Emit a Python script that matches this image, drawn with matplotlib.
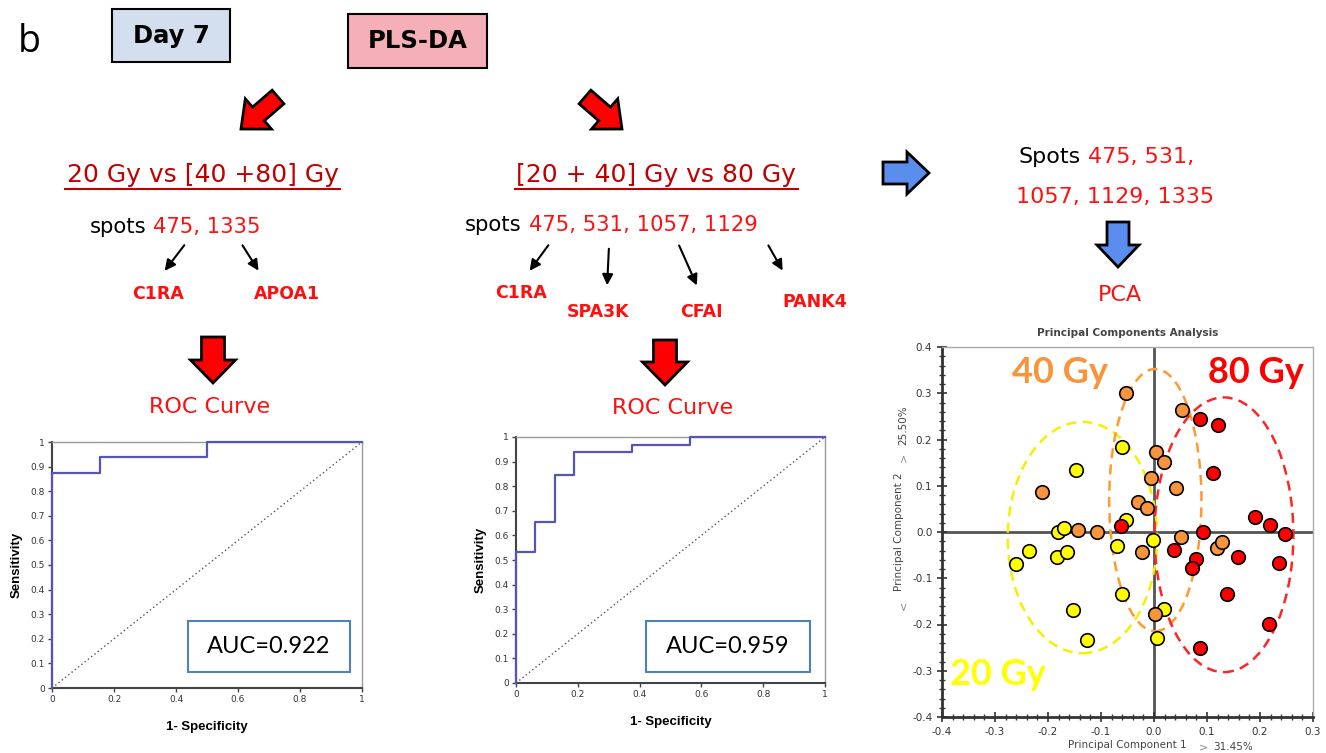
import matplotlib
matplotlib.use("Agg")
import matplotlib.pyplot as plt
from matplotlib.patches import FancyArrow, Rectangle, Ellipse
from matplotlib.ticker import MultipleLocator

# ROC curve 1: 20 Gy vs [40+80] Gy
fpr1 = [0, 0, 0.15625, 0.5, 1]
tpr1 = [0, 0.875, 0.9375, 1, 1]
auc1 = "AUC=0.922"

# ROC curve 2: [20+40] Gy vs 80 Gy
fpr2 = [0, 0, 0.0625, 0.125, 0.1875, 0.375, 0.5625, 1]
tpr2 = [0, 0.531, 0.656, 0.844, 0.9375, 0.969, 1, 1]
auc2 = "AUC=0.959"

roc_yticks = [0, 0.1, 0.2, 0.3, 0.4, 0.5, 0.6, 0.7, 0.8, 0.9, 1]
roc_ylabels = ["0", "0.1", "0.2", "0.3", "0.4", "0.5", "0.6", "0.7", "0.8", "0.9", "1"]
roc_xticks = [0, 0.2, 0.4, 0.6, 0.8, 1]
roc_xlabels = ["0", "0.2", "0.4", "0.6", "0.8", "1"]

# PCA scores (PC1, PC2)
pc1_20 = [-0.26, -0.235, -0.182, -0.169, -0.183, -0.164, -0.147, -0.152,
          -0.126, -0.060, -0.053, -0.069, -0.060, -0.001, 0.019, 0.006]
pc2_20 = [-0.069, -0.042, 0.001, 0.008, -0.055, -0.043, 0.133, -0.168,
          -0.234, 0.183, 0.027, -0.031, -0.134, -0.018, -0.167, -0.229]
pc1_40 = [-0.211, -0.143, -0.108, -0.053, -0.031, -0.014, -0.006, 0.004,
          0.018, 0.042, 0.052, -0.022, 0.050, 0.001, 0.119, 0.128]
pc2_40 = [0.087, 0.005, 0.001, 0.301, 0.065, 0.051, 0.117, 0.173,
          0.151, 0.095, 0.263, -0.043, -0.010, -0.178, -0.035, -0.022]
pc1_80 = [-0.062, 0.087, 0.121, 0.111, 0.092, 0.038, 0.080, 0.072,
          0.158, 0.138, 0.190, 0.219, 0.248, 0.235, 0.217, 0.087]
pc2_80 = [0.012, 0.245, 0.231, 0.128, 0.001, -0.039, -0.059, -0.078,
          -0.055, -0.135, 0.032, 0.016, -0.004, -0.068, -0.199, -0.251]

# group ellipses: centre x, centre y, width, height
ell_20 = [-0.135, -0.012, 0.282, 0.50]
ell_40 = [0.0025, 0.069, 0.174, 0.567]
ell_80 = [0.132, -0.006, 0.262, 0.594]

c_yellow = "#FFFF00"
c_orange = "#F7943C"
c_red = "#FF0000"
c_dred = "#C00000"
c_text_red = "#FF1010"
c_blue = "#5B8DEF"

W, H = 1326, 753
fig = plt.figure(figsize=(W / 100, H / 100), dpi=100)

# overlay in pixel coordinates for the diagram parts
ov = fig.add_axes([0, 0, 1, 1])
ov.set_xlim(0, W)
ov.set_ylim(H, 0)
ov.axis("off")

font = "DejaVu Sans"

ov.text(18, 42, "b", fontsize=27, family="Open Sans", va="center", ha="left")

ov.add_patch(Rectangle((112, 9), 118, 53, facecolor="#D3DFEE", edgecolor="black", lw=1.5))
ov.text(171, 36, "Day 7", fontsize=17.5, family=font, weight="bold", ha="center", va="center")
ov.add_patch(Rectangle((348, 14), 139, 54, facecolor="#F4AFB7", edgecolor="black", lw=1.5))
ov.text(417.5, 41, "PLS-DA", fontsize=17.5, family=font, weight="bold", ha="center", va="center")


def big_arrow(x, y, dx, dy, color, shaft, head_w, head_l):
    ov.add_patch(FancyArrow(x, y, dx, dy, width=shaft, head_width=head_w,
                            head_length=head_l, length_includes_head=True,
                            facecolor=color, edgecolor="black", lw=2))


# red diagonal arrows from the top
big_arrow(278, 97, -37, 32, c_red, 18, 40, 23)
big_arrow(585, 97, 37, 32, c_red, 18, 40, 23)

# titles
ov.text(203, 175, "20 Gy vs [40 +80] Gy", fontsize=18, family=font, color=c_dred,
        ha="center", va="center")
ov.plot([65, 340], [189, 189], color=c_dred, lw=1.5)
ov.text(656, 175, "[20 + 40] Gy vs 80 Gy", fontsize=18, family=font, color=c_dred,
        ha="center", va="center")
ov.plot([515, 798], [189, 189], color=c_dred, lw=1.5)

# spot lines
ov.text(146, 227, "spots", fontsize=15.2, family=font, ha="right", va="center")
ov.text(153, 227, "475, 1335", fontsize=15.2, family=font, color=c_text_red, ha="left", va="center")
ov.text(521, 225, "spots", fontsize=15.2, family=font, ha="right", va="center")
ov.text(529, 225, "475, 531, 1057, 1129", fontsize=15.2, family=font, color=c_text_red,
        ha="left", va="center")


def thin_arrow(x0, y0, x1, y1):
    ov.annotate("", xy=(x1, y1), xytext=(x0, y0),
                arrowprops=dict(arrowstyle="-|>", lw=1.5, color="black", mutation_scale=16))


thin_arrow(186, 243, 163, 273)
thin_arrow(241, 243, 260, 273)
thin_arrow(550, 243, 528, 273)
thin_arrow(609, 246, 607, 288)
thin_arrow(678, 243, 698, 288)
thin_arrow(767, 243, 784, 273)

prot_kw = dict(fontsize=12.5, family=font, weight="bold", color=c_text_red, ha="center", va="center")
ov.text(158, 294, "C1RA", **prot_kw)
ov.text(287, 294, "APOA1", **prot_kw)
ov.text(521, 293, "C1RA", **prot_kw)
ov.text(598, 312, "SPA3K", **prot_kw)
ov.text(701, 312, "CFAI", **prot_kw)
ov.text(815, 302, "PANK4", **prot_kw)

# red down arrows and ROC captions
big_arrow(213, 337, 0, 46, c_red, 23, 45, 23)
big_arrow(665, 340, 0, 45, c_red, 23, 45, 23)
ov.text(210, 407, "ROC Curve", fontsize=16, family=font, color=c_text_red, ha="center", va="center")
ov.text(673, 408, "ROC Curve", fontsize=16, family=font, color=c_text_red, ha="center", va="center")

# right column
big_arrow(883, 173, 46, 0, c_blue, 22, 42, 22)
ov.text(1081, 157, "Spots", fontsize=16, family=font, ha="right", va="center")
ov.text(1088, 157, "475, 531,", fontsize=16, family=font, color=c_text_red, ha="left", va="center")
ov.text(1115, 197, "1057, 1129, 1335", fontsize=16, family=font, color=c_text_red,
        ha="center", va="center")
big_arrow(1118, 222, 0, 45, c_blue, 22, 42, 22)
ov.text(1120, 295, "PCA", fontsize=16, family=font, color=c_text_red, ha="center", va="center")


# ROC panels
def roc_panel(rect, fpr, tpr, auc, box):
    ax = fig.add_axes(rect)
    ax.step(fpr, tpr, where="post", color="#5555B5", lw=1.6, zorder=3, clip_on=False)
    ax.plot([0, 1], [0, 1], color="#555555", lw=1, ls=(0, (1, 2)))
    ax.set_xlim(0, 1)
    ax.set_ylim(0, 1)
    ax.set_xticks(roc_xticks)
    ax.set_xticklabels(roc_xlabels)
    ax.set_yticks(roc_yticks)
    ax.set_yticklabels(roc_ylabels)
    ax.tick_params(labelsize=6.5, length=3, width=1, color="#444444", labelcolor="#333333", pad=2)
    for s in ["left", "bottom"]:
        ax.spines[s].set_color("#444444")
        ax.spines[s].set_linewidth(1.5)
    for s in ["top", "right"]:
        ax.spines[s].set_color("#999999")
        ax.spines[s].set_linewidth(1)
    ax.set_ylabel("Sensitivity", fontsize=9.5, weight="bold", family="Liberation Sans", labelpad=6)
    ax.set_xlabel("1- Specificity", fontsize=9.5, weight="bold", family="Liberation Sans", labelpad=12)
    bx0, by0, bx1, by1 = box
    ax.add_patch(Rectangle((bx0, by0), bx1 - bx0, by1 - by0, facecolor="white",
                           edgecolor="#4F81BD", lw=1.5, zorder=4))
    ax.text((bx0 + bx1) / 2, (by0 + by1) / 2, auc, fontsize=17, family="Lato",
            ha="center", va="center", zorder=5)
    return ax


roc_panel([52 / W, 1 - 688 / H, 310 / W, 246 / H], fpr1, tpr1, auc1, (0.44, 0.065, 0.96, 0.272))
roc_panel([516 / W, 1 - 683 / H, 309 / W, 246 / H], fpr2, tpr2, auc2, (0.42, 0.045, 0.95, 0.252))

# PCA panel
ax = fig.add_axes([942 / W, 1 - 717 / H, 371 / W, 370 / H])
ax.set_xlim(-0.4, 0.3)
ax.set_ylim(-0.4, 0.4)
ax.axhline(0, color="#555555", lw=2, zorder=1)
ax.axvline(0, color="#555555", lw=2, zorder=1)
for (cx, cy, w, h), col in [(ell_20, "#F5F000"), (ell_40, "#FF9A30"), (ell_80, "#FF2525")]:
    ax.add_patch(Ellipse((cx, cy), w, h, fill=False, edgecolor=col, lw=1.8, ls=(0, (4, 2.5)), zorder=2))
ax.scatter(pc1_20, pc2_20, s=95, c=c_yellow, edgecolors="black", linewidths=1.2, zorder=3)
ax.scatter(pc1_40, pc2_40, s=95, c=c_orange, edgecolors="black", linewidths=1.2, zorder=3)
ax.scatter(pc1_80, pc2_80, s=95, c=c_red, edgecolors="black", linewidths=1.2, zorder=3)
ax.xaxis.set_major_locator(MultipleLocator(0.1))
ax.yaxis.set_major_locator(MultipleLocator(0.1))
ax.xaxis.set_minor_locator(MultipleLocator(0.02))
ax.yaxis.set_minor_locator(MultipleLocator(0.02))
ax.xaxis.set_major_formatter(lambda v, p: f"{v:.1f}")
ax.yaxis.set_major_formatter(lambda v, p: f"{v:.1f}")
ax.tick_params(which="major", direction="inout", length=7, width=1.2, labelsize=7.5,
               color="#333333", labelcolor="#333333")
ax.tick_params(which="minor", direction="inout", length=4, width=1, color="#333333")
for s in ["left", "bottom"]:
    ax.spines[s].set_color("#333333")
    ax.spines[s].set_linewidth(2)
for s in ["top", "right"]:
    ax.spines[s].set_color("#AAAAAA")
    ax.spines[s].set_linewidth(1)
ax.set_title("Principal Components Analysis", fontsize=7.5, weight="bold", color="#444444", pad=8)
ax.set_xlabel("Principal Component 1", fontsize=7.5, color="#444444", labelpad=2)
ax.set_ylabel("Principal Component 2", fontsize=7.5, color="#444444", labelpad=6)
ax.text(-0.268, 0.344, "40 Gy", fontsize=26, family="Lato", weight="bold", color=c_orange,
        ha="left", va="center")
ax.text(0.102, 0.344, "80 Gy", fontsize=26, family="Lato", weight="bold", color=c_red,
        ha="left", va="center")
ax.text(-0.385, -0.309, "20 Gy", fontsize=26, family="Lato", weight="bold", color=c_yellow,
        ha="left", va="center")

ov.text(1203, 747, ">", fontsize=8, color="#888888", ha="center", va="center")
ov.text(1233, 747, "31.45%", fontsize=7.5, color="#444444", ha="center", va="center")
ov.text(903, 425, "25.50%", fontsize=7.5, color="#444444", ha="center", va="center", rotation=90)
ov.text(903, 457, ">", fontsize=8, color="#888888", ha="center", va="center", rotation=90)
ov.text(903, 605, "<", fontsize=8, color="#888888", ha="center", va="center", rotation=90)

fig.savefig("out.png", dpi=100)
